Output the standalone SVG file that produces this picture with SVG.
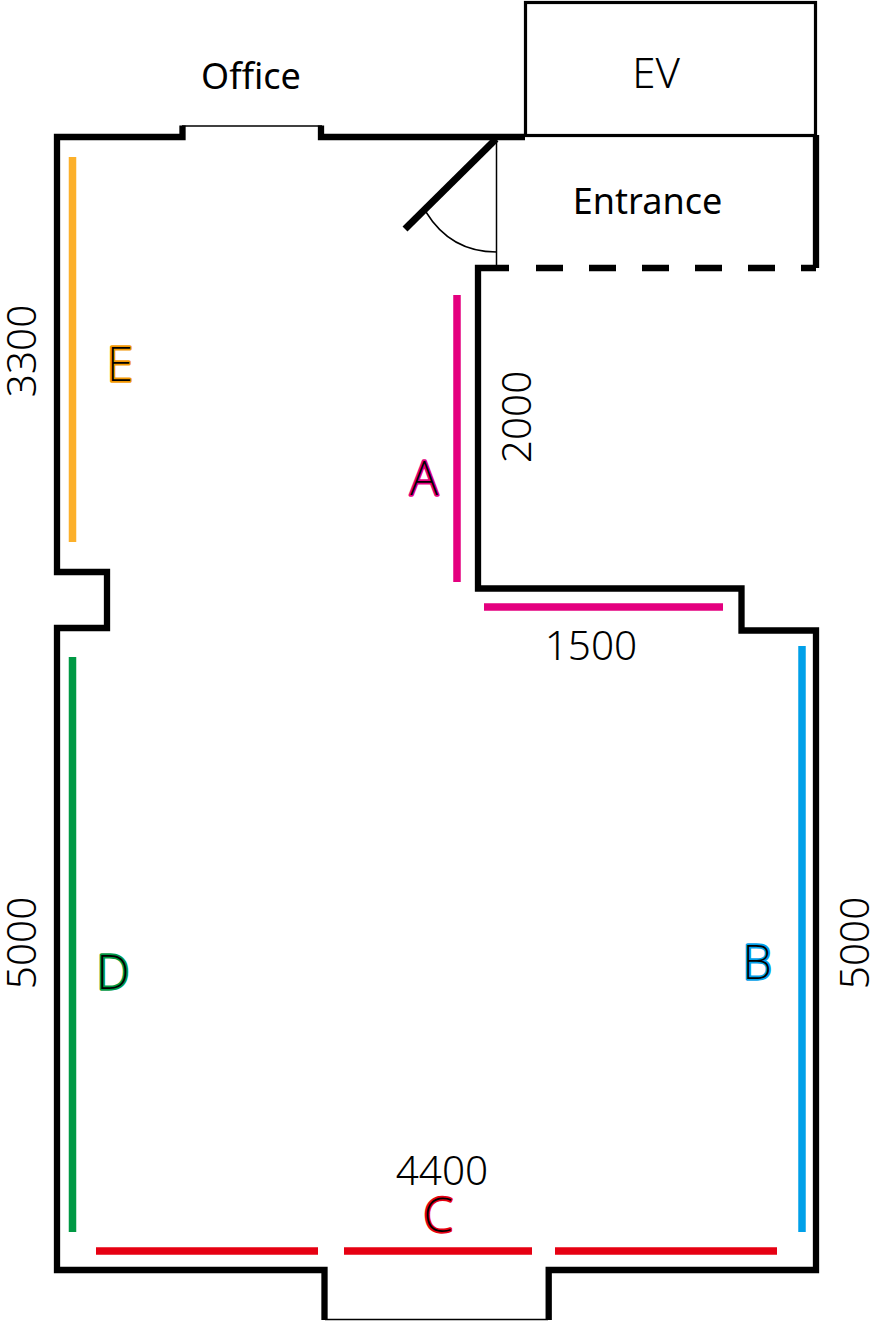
<svg xmlns="http://www.w3.org/2000/svg" width="884" height="1321" viewBox="0 0 884 1321">
<style>
.w{fill:none;stroke:#000;stroke-width:6.300;stroke-linejoin:miter;stroke-linecap:butt}
.t{fill:none;stroke:#000;stroke-width:1.500}
.t3{fill:none;stroke:#000;stroke-width:3.200}
.b{stroke-width:7.500;fill:none}
text{font-family:"Noto Sans","Open Sans",sans-serif;fill:#000;font-weight:300}
.d{font-size:40.500px;text-anchor:middle}
.l{font-size:36px;text-anchor:middle;font-weight:400}
.k{font-size:47px;text-anchor:middle;stroke-width:3.400;paint-order:stroke;stroke-linejoin:round;font-weight:200}
</style>
<g id="walls">
<path class="w" d="M525 137H321V125.500M182.500 125.500V137H57V572H107V628H57V1270H324.500V1320M548.700 1320V1270H816V630.500H741.500V588.500H478V268H509"/>
<path class="w" d="M816 135V268"/>
<path class="w" d="M536 268H816" stroke-dasharray="27 26"/>
<path class="t" d="M182 126H322"/>
<path class="t" d="M325 1319.500H548"/>
</g>
<g id="ev"><rect class="t3" x="525.500" y="2.500" width="290" height="133"/><text class="l" x="656" y="88" style="font-size:42px;font-weight:300">EV</text></g>
<g id="entrance"><text class="l" x="647.500" y="214">Entrance</text></g>
<g id="office"><text class="l" x="251" y="89">Office</text></g>
<g id="door">
<path d="M496 139L405 229" fill="none" stroke="#000" stroke-width="7"/>
<path class="t" d="M496.500 139V266M426 212C442 238 464 252 496.500 252"/>
</g>
<g id="wall-a"><path class="b" stroke="#e4007f" d="M457 295V582M484 607H723"/><text class="k" x="424" y="495" stroke="#e4007f">A</text></g>
<g id="wall-b"><path class="b" stroke="#00a0e9" d="M802 646V1232"/><text class="k" x="757" y="979" stroke="#00a0e9">B</text></g>
<g id="wall-c"><path class="b" stroke="#e60012" d="M96 1251H318M344 1251H532M555 1251H777"/><text class="k" x="438" y="1232" stroke="#e60012">C</text></g>
<g id="wall-d"><path class="b" stroke="#009944" d="M72.500 657V1232"/><text class="k" x="113" y="989" stroke="#009944">D</text></g>
<g id="wall-e"><path class="b" stroke="#fcb02a" d="M72.500 157V542"/><text class="k" x="120" y="381" stroke="#f39800">E</text></g>
<g id="dims">
<text class="d" transform="translate(36 351) rotate(-90)">3300</text>
<text class="d" transform="translate(531 417) rotate(-90)">2000</text>
<text class="d" transform="translate(36 943) rotate(-90)">5000</text>
<text class="d" transform="translate(869 943) rotate(-90)">5000</text>
<text class="d" x="591" y="660">1500</text>
<text class="d" x="442" y="1185">4400</text>
</g>
</svg>
